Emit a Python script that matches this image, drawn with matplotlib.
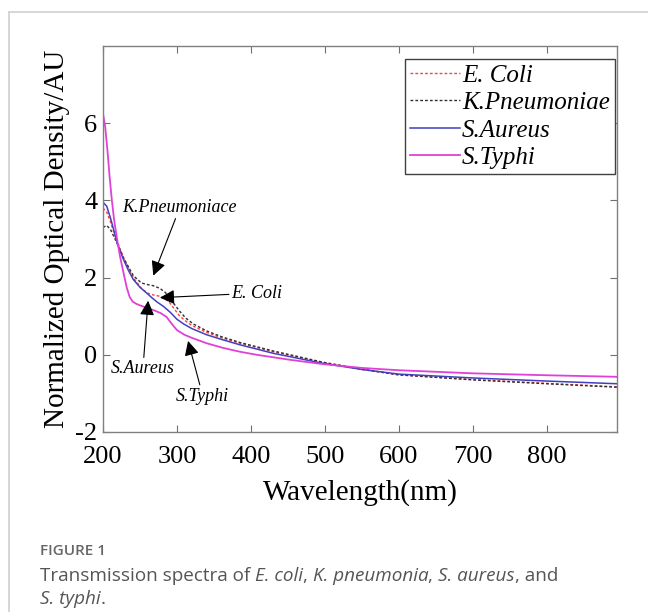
import numpy as np
import matplotlib.pyplot as plt
from matplotlib.lines import Line2D

plt.rcParams['font.family'] = 'Liberation Serif'
plt.rcParams['axes.unicode_minus'] = False

# wavelengths (nm) and normalized optical density
wl_ecoli = [200, 205, 210, 215, 219, 228, 241, 252, 260, 268, 276, 283, 290, 296, 303, 310, 320, 340,
            360, 385, 430, 497, 550, 600, 700, 800, 895]
od_ecoli = [3.8, 3.7, 3.45, 3.15, 2.95, 2.5, 2.0, 1.72, 1.6, 1.55, 1.52, 1.47, 1.35, 1.2, 1.02, 0.9, 0.76, 0.58,
            0.44, 0.3, 0.08, -0.2, -0.38, -0.52, -0.64, -0.74, -0.83]

wl_kpn = [200, 205, 210, 215, 220, 228, 241, 252, 260, 268, 277, 284, 290, 296, 304, 312, 322, 340,
          360, 385, 430, 497, 550, 600, 700, 800, 895]
od_kpn = [3.3, 3.35, 3.25, 3.05, 2.85, 2.5, 2.05, 1.86, 1.82, 1.79, 1.72, 1.62, 1.48, 1.32, 1.12, 0.95, 0.8, 0.62,
          0.47, 0.32, 0.1, -0.19, -0.37, -0.52, -0.65, -0.75, -0.84]

wl_sau = [200, 205, 210, 215, 219, 227, 234, 241, 250, 259, 266, 273, 282, 291, 300, 309, 320, 340,
          360, 385, 430, 497, 550, 600, 700, 800, 895]
od_sau = [3.95, 3.85, 3.55, 3.2, 2.9, 2.5, 2.2, 1.95, 1.75, 1.6, 1.48, 1.37, 1.25, 1.1, 0.92, 0.8, 0.68, 0.52,
          0.4, 0.26, 0.04, -0.22, -0.38, -0.5, -0.6, -0.68, -0.75]

wl_sty = [200, 203, 206, 209, 212, 215, 219, 223, 228, 232, 236, 240, 245, 250, 259, 268, 278, 286,
          293, 300, 310, 320, 340, 362, 385, 408, 453, 497, 550, 600, 700, 800, 895]
od_sty = [6.25, 5.9, 5.3, 4.6, 4.0, 3.5, 3.0, 2.55, 2.1, 1.75, 1.5, 1.38, 1.32, 1.28, 1.22, 1.16, 1.08, 0.98,
          0.8, 0.64, 0.52, 0.44, 0.3, 0.18, 0.08, 0.0, -0.13, -0.24, -0.34, -0.4, -0.48, -0.53, -0.57]

fig = plt.figure(figsize=(6.48, 6.12), dpi=100)

# card border (left and top)
fig.add_artist(Line2D([9/648, 9/648], [0, 1 - 12/612], color='#d0d0d0', lw=1.2))
fig.add_artist(Line2D([9/648, 1], [1 - 12/612, 1 - 12/612], color='#d0d0d0', lw=1.2))

ax = fig.add_axes([103/648, 1 - 432/612, 514/648, 386/612])

ax.plot(wl_ecoli, od_ecoli, color='#ff4040', ls=(0, (2, 1.5)), lw=1.0, label='E. Coli')
ax.plot(wl_kpn, od_kpn, color='#303030', ls=(0, (2, 1.5)), lw=1.0, label='K.Pneumoniae')
ax.plot(wl_sau, od_sau, color='#4040c0', lw=1.1, label='S.Aureus')
ax.plot(wl_sty, od_sty, color='#e040d8', lw=1.3, label='S.Typhi')

ax.set_xlim(200, 895)
ax.set_ylim(-2, 8)
ax.set_xticks([200, 300, 400, 500, 600, 700, 800])
ax.set_yticks([-2, 0, 2, 4, 6])
ax.tick_params(direction='in', top=True, right=True, length=5, color='#707070', labelsize=19)
ax.tick_params(axis='x', pad=10)
ax.tick_params(axis='y', pad=4)
for s in ax.spines.values():
    s.set_color('#808080')
    s.set_linewidth(1.0)

ax.set_xlabel('Wavelength(nm)', fontsize=21, labelpad=8)
ax.set_ylabel('Normalized Optical Density/AU', fontsize=21, labelpad=4)

leg = ax.legend(loc='upper right', prop={'style': 'italic', 'size': 18}, handlelength=2.0,
                handletextpad=0.1, labelspacing=0.2, borderpad=0.2, borderaxespad=0, fancybox=False,
                framealpha=1, bbox_to_anchor=(0.996, 0.966))
leg.get_frame().set_edgecolor('#404040')
leg.get_frame().set_linewidth(1.0)

arrow = dict(arrowstyle='-|>', color='k', lw=0.8, mutation_scale=22, shrinkA=0, shrinkB=0)
ann_font = dict(fontsize=13, style='italic')
ax.annotate('K.Pneumoniace', xy=(268, 2.05), xytext=(304, 3.82), ha='center', va='center',
            arrowprops=arrow, **ann_font)
ax.annotate('E. Coli', xy=(277, 1.48), xytext=(374, 1.6), ha='left', va='center',
            arrowprops=arrow, **ann_font)
ax.annotate('S.Aureus', xy=(261, 1.4), xytext=(254, -0.36), ha='center', va='center',
            arrowprops=arrow, **ann_font)
ax.annotate('S.Typhi', xy=(315, 0.36), xytext=(335, -1.07), ha='center', va='center',
            arrowprops=arrow, **ann_font)

# caption, built from pieces so italic names sit inline
fig.text(40/648, 1 - 551/612, 'FIGURE 1', fontsize=11, family='Open Sans', color='#666666',
         weight='semibold', va='center')

cap_size = 13.6
pieces = [('Transmission spectra of ', 'normal'), ('E. coli', 'italic'), (', ', 'normal'),
          ('K. pneumonia', 'italic'), (', ', 'normal'), ('S. aureus', 'italic'), (', and', 'normal')]
fig.canvas.draw()
r = fig.canvas.get_renderer()
x = 40
for txt, st in pieces:
    t = fig.text(x/648, 1 - 576/612, txt, fontsize=cap_size, family='Open Sans', style=st,
                 color='#555555', va='center')
    x += t.get_window_extent(r).width
t2 = fig.text(40/648, 1 - 599/612, 'S. typhi', fontsize=cap_size, family='Open Sans', style='italic',
              color='#555555', va='center')
w = t2.get_window_extent(r).width
fig.text((40 + w)/648, 1 - 599/612, '.', fontsize=cap_size, family='Open Sans', color='#555555',
         va='center')

fig.savefig('out.png', dpi=100)
